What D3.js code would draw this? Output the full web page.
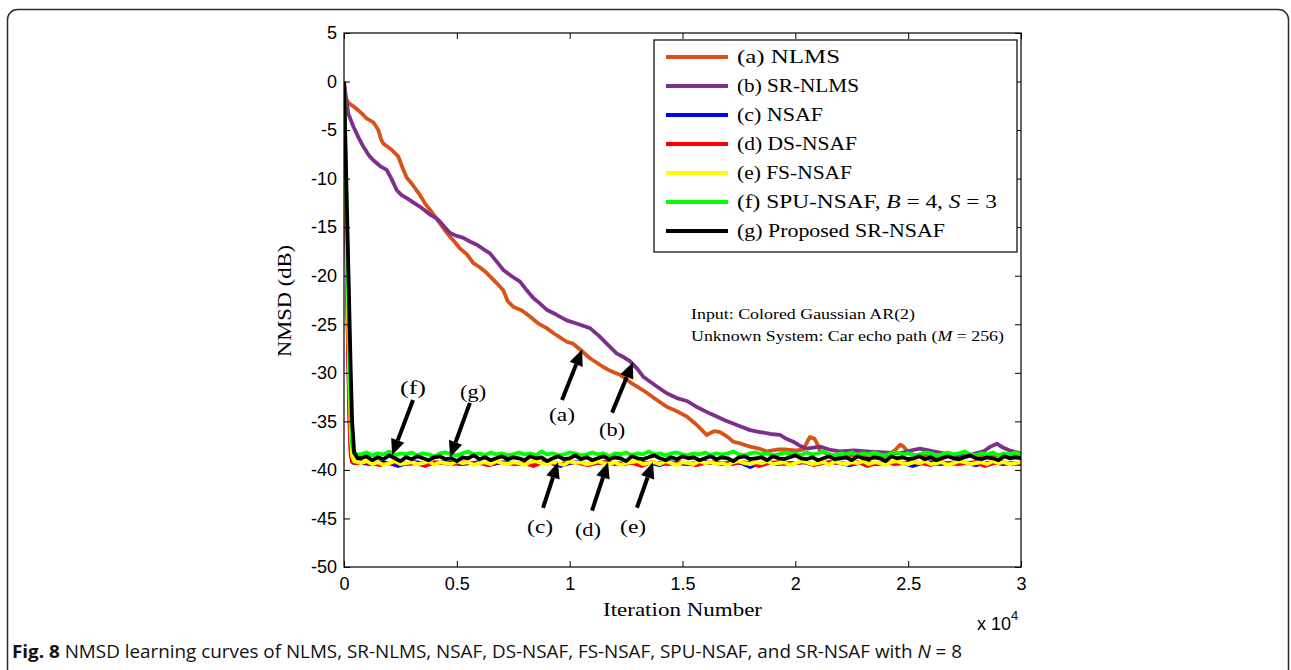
<!DOCTYPE html>
<html>
<head>
<meta charset="utf-8">
<script src="https://cdn.jsdelivr.net/npm/d3@7/dist/d3.min.js"></script>
<style>
  html, body { margin: 0; padding: 0; background: #fff; }
  svg { display: block; }
  .serif { font-family: "Liberation Serif", "DejaVu Serif", serif; }
  .tick text { font-family: "Liberation Sans Narrow", "Liberation Sans", Arial, sans-serif; font-size: 18px; fill: #000; }
</style>
</head>
<body>
<svg id="chart" width="1291" height="670"></svg>
<script>
// ---------- data ----------
const xTickValues = [0, 5000, 10000, 15000, 20000, 25000, 30000];
const xTickLabels = ["0", "0.5", "1", "1.5", "2", "2.5", "3"];
const yTickValues = [5, 0, -5, -10, -15, -20, -25, -30, -35, -40, -45, -50];

// NLMS learning curve (iteration, NMSD dB)
const nlmsIter = [0, 60, 200, 500, 800, 1000, 1300, 1520, 1650, 1750, 2100, 2400, 2600, 2780, 3000, 3370, 3600, 3810, 4000, 4250, 4500, 4700, 4900, 5140, 5450, 5730, 6000, 6320, 6700, 7060, 7250, 7500, 7900, 8240, 8600, 8980, 9400, 9870, 10150, 10460, 10900, 11490, 11800, 12230, 12700, 13260, 13800, 14300, 14700, 15190, 15600, 16070, 16400, 16660, 17000, 17250, 17600, 17990, 18400, 18730, 19200, 19620, 20000, 20350, 20550, 20650, 20850, 20950, 21100, 21500, 22000, 22500, 23000, 23500, 24000, 24400, 24650, 24800, 25000, 25400, 26000, 26500, 27000, 27500, 28000, 28500, 29000, 29500, 30000];
const nlmsDb = [0, -1.6, -2.2, -2.7, -3.3, -3.8, -4.2, -5.0, -6.0, -6.4, -7.0, -7.7, -8.9, -9.9, -10.5, -11.7, -12.6, -13.2, -13.8, -14.6, -15.4, -16.0, -16.5, -17.2, -17.8, -18.7, -19.1, -19.7, -20.6, -21.5, -22.6, -23.2, -23.6, -24.2, -24.9, -25.4, -26.1, -26.8, -27.0, -27.6, -28.5, -29.4, -29.8, -30.2, -31.0, -31.8, -32.7, -33.5, -33.9, -34.5, -35.3, -36.4, -36.0, -36.1, -36.6, -37.1, -37.3, -37.6, -37.8, -38.1, -37.9, -37.9, -38.0, -37.9, -37.0, -36.6, -36.8, -37.2, -38.1, -38.4, -38.7, -38.5, -38.6, -38.3, -38.6, -38.0, -37.4, -37.6, -38.2, -38.6, -38.4, -38.7, -38.5, -38.6, -38.4, -38.7, -38.5, -38.6, -38.5];

// SR-NLMS learning curve
const srnlmsIter = [0, 44, 190, 410, 650, 855, 1100, 1300, 1600, 1890, 2100, 2340, 2550, 2780, 3100, 3370, 3600, 3810, 4050, 4250, 4500, 4700, 5000, 5290, 5600, 5880, 6200, 6470, 6750, 7060, 7400, 7800, 8100, 8390, 8700, 8980, 9400, 9870, 10400, 10900, 11300, 11640, 12080, 12400, 12670, 13000, 13260, 13800, 14300, 14750, 15190, 15700, 16220, 16900, 17550, 18000, 18430, 18900, 19320, 19600, 19910, 20200, 20500, 20800, 21090, 21500, 21980, 22600, 23160, 23900, 24640, 25100, 25520, 26120, 26800, 27590, 28000, 28330, 28650, 28930, 29200, 29510, 30000];
const srnlmsDb = [0, -0.9, -3.3, -4.6, -5.8, -6.7, -7.6, -8.1, -8.7, -9.1, -10.0, -11.2, -11.7, -12.0, -12.5, -12.9, -13.3, -13.7, -14.0, -14.4, -15.1, -15.6, -15.9, -16.1, -16.5, -16.8, -17.3, -17.7, -18.5, -19.4, -20.0, -20.6, -21.5, -22.3, -22.9, -23.5, -24.0, -24.6, -25.0, -25.4, -26.2, -27.0, -28.0, -28.4, -28.8, -29.6, -30.4, -31.3, -32.1, -32.6, -32.9, -33.6, -34.2, -34.9, -35.5, -35.9, -36.1, -36.3, -36.4, -36.8, -37.1, -37.5, -37.8, -37.7, -37.6, -37.9, -38.1, -38.0, -38.1, -38.2, -38.3, -38.0, -37.8, -38.1, -38.4, -38.6, -38.3, -38.1, -37.6, -37.3, -37.7, -38.0, -38.3];

// Subband filters: shared transient iterations, then steady-state sampling grids
const transIter = [0, 60, 120, 180, 240, 300, 360, 450, 600];
const fineIter = d3.range(750, 30001, 250);    // 118 samples
const coarseIter = d3.range(800, 30001, 400);  // 74 samples

const nsafTrans = [0, -9, -18, -27, -34, -38, -39.1, -39.3, -39.3];
const nsafSteady = [
  -39.3, -39.4, -39.2, -39.3, -39.6, -39.3, -39.2, -39.4, -39.3, -39.2,
  -39.3, -39.4, -39.3, -39.2, -39.5, -39.3, -39.2, -39.3, -39.4, -39.2,
  -39.3, -39.3, -39.6, -39.3, -39.2, -39.4, -39.3, -39.2, -39.3, -39.4,
  -39.2, -39.3, -39.3, -39.5, -39.2, -39.3, -39.4, -39.3, -39.2, -39.3,
  -39.4, -39.2, -39.3, -39.7, -39.3, -39.2, -39.4, -39.3, -39.3, -39.2,
  -39.4, -39.3, -39.2, -39.3, -39.5, -39.3, -39.2, -39.4, -39.3, -39.2,
  -39.3, -39.6, -39.3, -39.2, -39.4, -39.3, -39.2, -39.3, -39.5, -39.3,
  -39.2, -39.4, -39.3, -39.4];

const dsnsafTrans = [0, -9.5, -19, -28, -35, -38.5, -39.2, -39.3, -39.3];
const dsnsafSteady = [
  -39.2, -39.3, -39.5, -39.3, -39.2, -39.4, -39.3, -39.6, -39.2, -39.3,
  -39.4, -39.2, -39.3, -39.3, -39.5, -39.2, -39.3, -39.4, -39.3, -39.6,
  -39.2, -39.3, -39.4, -39.2, -39.3, -39.5, -39.3, -39.2, -39.4, -39.3,
  -39.3, -39.6, -39.2, -39.3, -39.4, -39.2, -39.3, -39.5, -39.3, -39.2,
  -39.3, -39.4, -39.2, -39.3, -39.6, -39.3, -39.2, -39.4, -39.3, -39.2,
  -39.5, -39.3, -39.2, -39.3, -39.4, -39.2, -39.6, -39.3, -39.2, -39.4,
  -39.3, -39.2, -39.3, -39.5, -39.2, -39.3, -39.4, -39.3, -39.2, -39.6,
  -39.3, -39.2, -39.4, -39.3];

const fsnsafTrans = [0, -8, -16, -24, -31, -36, -38.6, -39.1, -39.2];
const fsnsafSteady = [
  -39.3, -39.1, -39.4, -39.2, -39.5, -39.3, -39.1, -39.4, -39.3, -39.2,
  -39.4, -39.3, -39.1, -39.5, -39.2, -39.3, -39.4, -39.1, -39.3, -39.2,
  -39.5, -39.3, -39.2, -39.4, -39.1, -39.3, -39.4, -39.2, -39.3, -39.5,
  -39.2, -39.1, -39.3, -39.4, -39.2, -39.3, -39.5, -39.1, -39.3, -39.2,
  -39.4, -39.3, -39.1, -39.3, -39.4, -39.2, -39.5, -39.3, -39.2, -39.1,
  -39.4, -39.3, -39.2, -39.4, -39.1, -39.3, -39.5, -39.2, -39.3, -39.4,
  -39.1, -39.3, -39.2, -39.4, -39.3, -39.5, -39.2, -39.1, -39.3, -39.4,
  -39.2, -39.3, -39.1, -39.4, -39.3, -39.2, -39.5, -39.3, -39.1, -39.2,
  -39.4, -39.3, -39.2, -39.5, -39.1, -39.3, -39.4, -39.2, -39.3, -39.1,
  -39.4, -39.2, -39.3, -39.5, -39.2, -39.1, -39.3, -39.4, -39.2, -39.3,
  -39.1, -39.4, -39.3, -39.2, -39.5, -39.3, -39.1, -39.2, -39.4, -39.3,
  -39.2, -39.4, -39.1, -39.3, -39.2, -39.4, -39.3, -39.2];

const spuTrans = [0, -7, -14, -21, -28, -34, -37.5, -38.3, -38.4];
const spuSteady = [
  -38.4, -38.2, -38.5, -38.3, -38.4, -38.1, -38.5, -38.3, -38.4, -38.2,
  -38.5, -38.3, -38.4, -38.6, -38.3, -38.2, -38.4, -38.5, -38.3, -38.1,
  -38.4, -38.3, -38.5, -38.2, -38.4, -38.3, -38.5, -38.4, -38.2, -38.4,
  -38.3, -38.5, -38.1, -38.4, -38.3, -38.5, -38.4, -38.2, -38.3, -38.5,
  -38.4, -38.2, -38.4, -38.3, -38.6, -38.3, -38.4, -38.2, -38.5, -38.3,
  -38.4, -38.1, -38.4, -38.3, -38.5, -38.3, -38.2, -38.4, -38.5, -38.3,
  -38.4, -38.2, -38.5, -38.3, -38.4, -38.3, -38.1, -38.4, -38.5, -38.3,
  -38.2, -38.4, -38.3, -38.5, -38.4, -38.2, -38.4, -38.3, -38.5, -38.2,
  -38.4, -38.3, -38.1, -38.4, -38.5, -38.3, -38.4, -38.2, -38.5, -38.3,
  -38.4, -38.2, -38.4, -38.5, -38.3, -38.2, -38.4, -38.3, -38.5, -38.4,
  -38.2, -38.3, -38.5, -38.4, -38.2, -38.4, -38.3, -38.1, -38.4, -38.5,
  -38.3, -38.4, -38.2, -38.5, -38.3, -38.4, -38.2, -38.4];

const srnsafTrans = [0, -6, -12, -18, -24, -30, -35, -38.2, -38.8];
const srnsafSteady = [
  -38.8, -38.6, -39.0, -38.7, -38.9, -38.5, -38.8, -39.1, -38.7, -38.9,
  -38.6, -38.8, -39.0, -38.7, -38.6, -38.9, -38.8, -39.1, -38.7, -38.8,
  -38.5, -38.9, -38.7, -39.0, -38.8, -38.6, -38.9, -38.7, -38.8, -39.0,
  -38.6, -38.8, -38.7, -39.1, -38.8, -38.6, -38.9, -38.8, -38.5, -38.9,
  -38.7, -39.0, -38.8, -38.6, -38.9, -38.7, -38.8, -39.1, -38.6, -38.8,
  -38.9, -38.7, -38.5, -38.8, -39.0, -38.7, -38.9, -38.6, -38.8, -38.7,
  -39.0, -38.8, -38.6, -38.9, -38.7, -38.8, -39.1, -38.7, -38.6, -38.9,
  -38.8, -38.7, -39.0, -38.6, -38.8, -38.9, -38.7, -38.5, -38.8, -38.9,
  -38.7, -39.0, -38.8, -38.6, -38.9, -38.8, -38.7, -39.0, -38.6, -38.8,
  -38.9, -38.7, -38.8, -39.1, -38.6, -38.8, -38.7, -38.9, -38.8, -38.6,
  -38.9, -38.7, -39.0, -38.8, -38.6, -38.8, -38.9, -38.7, -38.5, -38.8,
  -38.9, -38.7, -38.8, -39.0, -38.6, -38.8, -38.7, -38.8];

const seriesNames = ["(a) NLMS", "(b) SR-NLMS", "(c) NSAF", "(d) DS-NSAF", "(e) FS-NSAF", "(f) SPU-NSAF", "(g) Proposed SR-NSAF"];
const seriesColors = ["#d95319", "#7e2f8e", "#0000ff", "#ff0000", "#ffff00", "#00ff00", "#000000"];

// ---------- layout ----------
const svg = d3.select("#chart");
const plot = { left: 344, right: 1021, top: 33, bottom: 567 };
const x = d3.scaleLinear().domain([0, 30000]).range([plot.left, plot.right]);
const y = d3.scaleLinear().domain([-50, 5]).range([plot.bottom, plot.top]);

// stretch a text element to a given rendered width
function fit(sel, w) {
  return sel.attr("textLength", w).attr("lengthAdjust", "spacingAndGlyphs");
}

// card outline
svg.append("rect")
  .attr("x", 7.5).attr("y", 9.5).attr("width", 1281).attr("height", 700)
  .attr("rx", 10).attr("ry", 10)
  .attr("fill", "#fff").attr("stroke", "#2b2b2b").attr("stroke-width", 1.5);

// clip for curves
svg.append("clipPath").attr("id", "plotClip")
  .append("rect").attr("x", plot.left).attr("y", plot.top)
  .attr("width", plot.right - plot.left).attr("height", plot.bottom - plot.top);

const line = d3.line().x(d => x(d[0])).y(d => y(d[1]));
const curves = svg.append("g").attr("clip-path", "url(#plotClip)");

const seriesData = [
  d3.zip(nlmsIter, nlmsDb),
  d3.zip(srnlmsIter, srnlmsDb),
  d3.zip(transIter.concat(coarseIter), nsafTrans.concat(nsafSteady)),
  d3.zip(transIter.concat(coarseIter), dsnsafTrans.concat(dsnsafSteady)),
  d3.zip(transIter.concat(fineIter), fsnsafTrans.concat(fsnsafSteady)),
  d3.zip(transIter.concat(fineIter), spuTrans.concat(spuSteady)),
  d3.zip(transIter.concat(fineIter), srnsafTrans.concat(srnsafSteady))
];

seriesData.forEach((data, i) => {
  curves.append("path")
    .datum(data)
    .attr("d", line)
    .attr("fill", "none")
    .attr("stroke", seriesColors[i])
    .attr("stroke-width", 3.8)
    .attr("stroke-linejoin", "round");
});

// axes (MATLAB style: ticks inside on all four sides)
const tick = 6;
svg.append("g")
  .attr("transform", `translate(0,${plot.bottom})`)
  .call(d3.axisBottom(x).tickValues(xTickValues).tickFormat((d, i) => xTickLabels[i]).tickSize(-tick).tickPadding(10))
  .call(g => g.select(".domain").remove());
svg.append("g")
  .attr("transform", `translate(0,${plot.top})`)
  .call(d3.axisTop(x).tickValues(xTickValues).tickFormat("").tickSize(-tick))
  .call(g => g.select(".domain").remove());
svg.append("g")
  .attr("transform", `translate(${plot.left},0)`)
  .call(d3.axisLeft(y).tickValues(yTickValues).tickFormat(d => d < 0 ? "-" + Math.abs(d) : String(d)).tickSize(-tick).tickPadding(7))
  .call(g => g.select(".domain").remove());
svg.append("g")
  .attr("transform", `translate(${plot.right},0)`)
  .call(d3.axisRight(y).tickValues(yTickValues).tickFormat("").tickSize(-tick))
  .call(g => g.select(".domain").remove());
svg.selectAll(".tick line").attr("stroke", "#000");

svg.append("rect")
  .attr("x", plot.left).attr("y", plot.top)
  .attr("width", plot.right - plot.left).attr("height", plot.bottom - plot.top)
  .attr("fill", "none").attr("stroke", "#000").attr("stroke-width", 1.2);

// axis titles
fit(svg.append("text").attr("class", "serif")
  .attr("x", 603).attr("y", 616).attr("font-size", 19)
  .text("Iteration Number"), 159);
fit(svg.append("text").attr("class", "serif")
  .attr("transform", "translate(291,357) rotate(-90)")
  .attr("font-size", 19)
  .text("NMSD (dB)"), 112);
const expo = svg.append("text")
  .attr("x", 977).attr("y", 630)
  .attr("font-family", '"Liberation Sans Narrow", "Liberation Sans", Arial, sans-serif')
  .attr("font-size", 18);
expo.append("tspan").text("x 10");
expo.append("tspan").attr("dy", -10).attr("font-size", 13).text("4");

// legend
const legendWidths = [103, 122, 86, 120, 115, 260, 208];
const lg = svg.append("g");
lg.append("rect").attr("x", 654).attr("y", 40).attr("width", 363).attr("height", 212)
  .attr("fill", "#fff").attr("stroke", "#000").attr("stroke-width", 1.2);
seriesNames.forEach((name, i) => {
  const yy = 57 + i * 29;
  lg.append("line").attr("x1", 666).attr("x2", 728).attr("y1", yy).attr("y2", yy)
    .attr("stroke", seriesColors[i]).attr("stroke-width", 3.8);
  const t = lg.append("text").attr("class", "serif")
    .attr("x", 737).attr("y", yy + 6).attr("font-size", 19);
  if (i === 5) {
    t.append("tspan").text(name + ",  ");
    t.append("tspan").attr("font-style", "italic").text("B");
    t.append("tspan").text(" = 4, ");
    t.append("tspan").attr("font-style", "italic").text("S");
    t.append("tspan").text(" = 3");
  } else {
    t.text(name);
  }
  fit(t, legendWidths[i]);
});

// simulation conditions
fit(svg.append("text").attr("class", "serif")
  .attr("x", 691).attr("y", 319).attr("font-size", 14.5)
  .text("Input: Colored Gaussian AR(2)"), 224);
const cond = svg.append("text").attr("class", "serif")
  .attr("x", 691).attr("y", 341).attr("font-size", 14.5);
cond.append("tspan").text("Unknown System: Car echo path (");
cond.append("tspan").attr("font-style", "italic").text("M");
cond.append("tspan").text("  = 256)");
fit(cond, 313);

// curve annotations: label position, arrow tail and tip (data units)
const annotations = [
  { label: "(a)", lx: 9660, ly: -34.3, tail: [9660, -32.8], tip: [10550, -27.6] },
  { label: "(b)", lx: 11880, ly: -35.8, tail: [11880, -34.1], tip: [12800, -28.9] },
  { label: "(c)", lx: 8690, ly: -45.8, tail: [8820, -43.9], tip: [9480, -39.2] },
  { label: "(d)", lx: 10810, ly: -46.1, tail: [10990, -44.2], tip: [11700, -39.2] },
  { label: "(e)", lx: 12810, ly: -45.8, tail: [12980, -43.9], tip: [13690, -39.2] },
  { label: "(f)", lx: 3060, ly: -31.5, tail: [3060, -32.8], tip: [2130, -38.5] },
  { label: "(g)", lx: 5720, ly: -31.9, tail: [5580, -33.1], tip: [4700, -38.7] }
];

annotations.forEach(a => {
  const x0 = x(a.tail[0]), y0 = y(a.tail[1]);
  const x1 = x(a.tip[0]), y1 = y(a.tip[1]);
  const ang = Math.atan2(y1 - y0, x1 - x0);
  const headLen = 16, headW = 7;
  const bx = x1 - headLen * Math.cos(ang), by = y1 - headLen * Math.sin(ang);
  svg.append("line")
    .attr("x1", x0).attr("y1", y0).attr("x2", bx).attr("y2", by)
    .attr("stroke", "#000").attr("stroke-width", 4);
  const px = -Math.sin(ang) * headW, py = Math.cos(ang) * headW;
  svg.append("path")
    .attr("d", `M${x1},${y1}L${bx + px},${by + py}L${bx - px},${by - py}Z`)
    .attr("fill", "#000");
  fit(svg.append("text").attr("class", "serif")
    .attr("x", x(a.lx) - 13).attr("y", y(a.ly)).attr("dy", "0.35em")
    .attr("font-size", 19)
    .text(a.label), 26);
});

// caption
const cap = svg.append("text")
  .attr("x", 12).attr("y", 658)
  .attr("font-family", '"Open Sans", "Liberation Sans", Arial, sans-serif')
  .attr("font-size", 18).attr("fill", "#111");
cap.append("tspan").attr("font-weight", "bold").text("Fig. 8");
cap.append("tspan").text(" NMSD learning curves of NLMS, SR-NLMS, NSAF, DS-NSAF, FS-NSAF, SPU-NSAF, and SR-NSAF with ");
cap.append("tspan").attr("font-style", "italic").text("N");
cap.append("tspan").text(" = 8");
fit(cap, 950);
</script>
</body>
</html>
